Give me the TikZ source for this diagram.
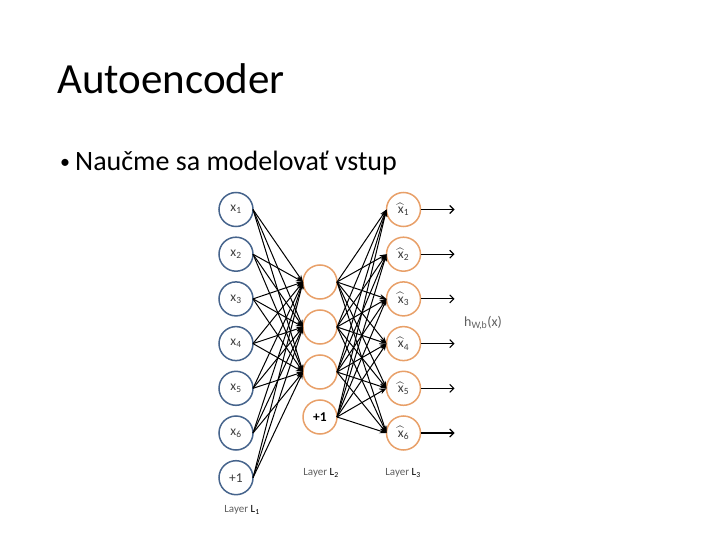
\documentclass[tikz,border=0pt]{standalone}
\usepackage{fontspec}
\setmainfont{Carlito}
\usepackage{amsmath}
\usetikzlibrary{positioning, arrows.meta}
\definecolor{inblue}{RGB}{70, 100, 140}
\definecolor{hidorange}{RGB}{232, 160, 105}
\definecolor{labelgray}{RGB}{95, 95, 95}
\definecolor{textgray}{RGB}{60, 60, 60}

\begin{document}
\begin{tikzpicture}[
  x=1pt, y=-1pt,
  every node/.style={inner sep=0pt},
  neuron/.style={
    circle, draw=#1, line width=1.5pt,
    minimum size=34pt, outer sep=0pt,
    font=\fontsize{13.5}{15}\selectfont, text=textgray
  },
  layerlabel/.style={font=\fontsize{11}{13}\selectfont, text=labelgray},
  arrow/.style={-{Stealth[length=7pt, width=5pt]}, line width=1pt},
  outarrow/.style={-{Straight Barb[length=4pt, width=8pt]}, line width=1.1pt}
]
\useasboundingbox (0,0) rectangle (720,540);

% ── Title ─────────────────────────────────────────────────────────────────────
\node[anchor=base west, font=\fontsize{43}{50}\selectfont]
  (title) at (57,94) {Autoencoder};

\node[anchor=base west, font=\fontsize{20}{24}\selectfont]
  (dot) at (60,169) {•};
\node[anchor=base west, font=\fontsize{28}{34}\selectfont]
  (item) at (75,171) {Naučme sa modelovať vstup};

% ── Layer L1 ──────────────────────────────────────────────────────────────────
\node[neuron=inblue] (in1) at (236,209.5) {x\textsubscript{1}};
\node[neuron=inblue, below=10.7pt of in1] (in2) {x\textsubscript{2}};
\node[neuron=inblue, below=10.7pt of in2] (in3) {x\textsubscript{3}};
\node[neuron=inblue, below=10.7pt of in3] (in4) {x\textsubscript{4}};
\node[neuron=inblue, below=10.7pt of in4] (in5) {x\textsubscript{5}};
\node[neuron=inblue, below=10.7pt of in5] (in6) {x\textsubscript{6}};
\node[neuron=inblue, below=10.7pt of in6] (inb) {+1};

% ── Layer L2 ──────────────────────────────────────────────────────────────────
\node[neuron=hidorange] (hid1) at (320,282) {};
\node[neuron=hidorange, below=11pt of hid1] (hid2) {};
\node[neuron=hidorange, below=11pt of hid2] (hid3) {};
\node[neuron=hidorange, below=11pt of hid3, text=black] (hidb) {\bfseries +1};

% ── Layer L3 ──────────────────────────────────────────────────────────────────
\node[neuron=hidorange] (out1) at (403.5,209.5) {$\widehat{\text{x}}_{\text{1}}$};
\node[neuron=hidorange, below=10.7pt of out1] (out2) {$\widehat{\text{x}}_{\text{2}}$};
\node[neuron=hidorange, below=10.7pt of out2] (out3) {$\widehat{\text{x}}_{\text{3}}$};
\node[neuron=hidorange, below=10.7pt of out3] (out4) {$\widehat{\text{x}}_{\text{4}}$};
\node[neuron=hidorange, below=10.7pt of out4] (out5) {$\widehat{\text{x}}_{\text{5}}$};
\node[neuron=hidorange, below=10.7pt of out5] (out6) {$\widehat{\text{x}}_{\text{6}}$};

% ── Labels ────────────────────────────────────────────────────────────────────
\node[anchor=west, font=\fontsize{14}{16}\selectfont, text=labelgray]
  (hlabel) at (464,323) {h\textsubscript{W,b}(x)};
\node[layerlabel] (lab1) at (242,510) {Layer \textcolor{black}{L\textsubscript{1}}};
\node[layerlabel] (lab2) at (321,473) {Layer \textcolor{black}{L\textsubscript{2}}};
\node[layerlabel] (lab3) at (403,473) {Layer \textcolor{black}{L\textsubscript{3}}};

% ── Connections ───────────────────────────────────────────────────────────────
\foreach \src in {in1,in2,in3,in4,in5,in6,inb}
  \foreach \dst in {hid1,hid2,hid3}
    \draw[arrow] (\src.east) -- (\dst.west);

\foreach \src in {hid1,hid2,hid3,hidb}
  \foreach \dst in {out1,out2,out3,out4,out5,out6}
    \draw[arrow] (\src.east) -- (\dst.west);

\foreach \i in {1,...,6} {
  \coordinate[right=34pt of out\i] (end\i);
  \draw[outarrow] (out\i.east) -- (end\i);
}

\end{tikzpicture}
\end{document}
